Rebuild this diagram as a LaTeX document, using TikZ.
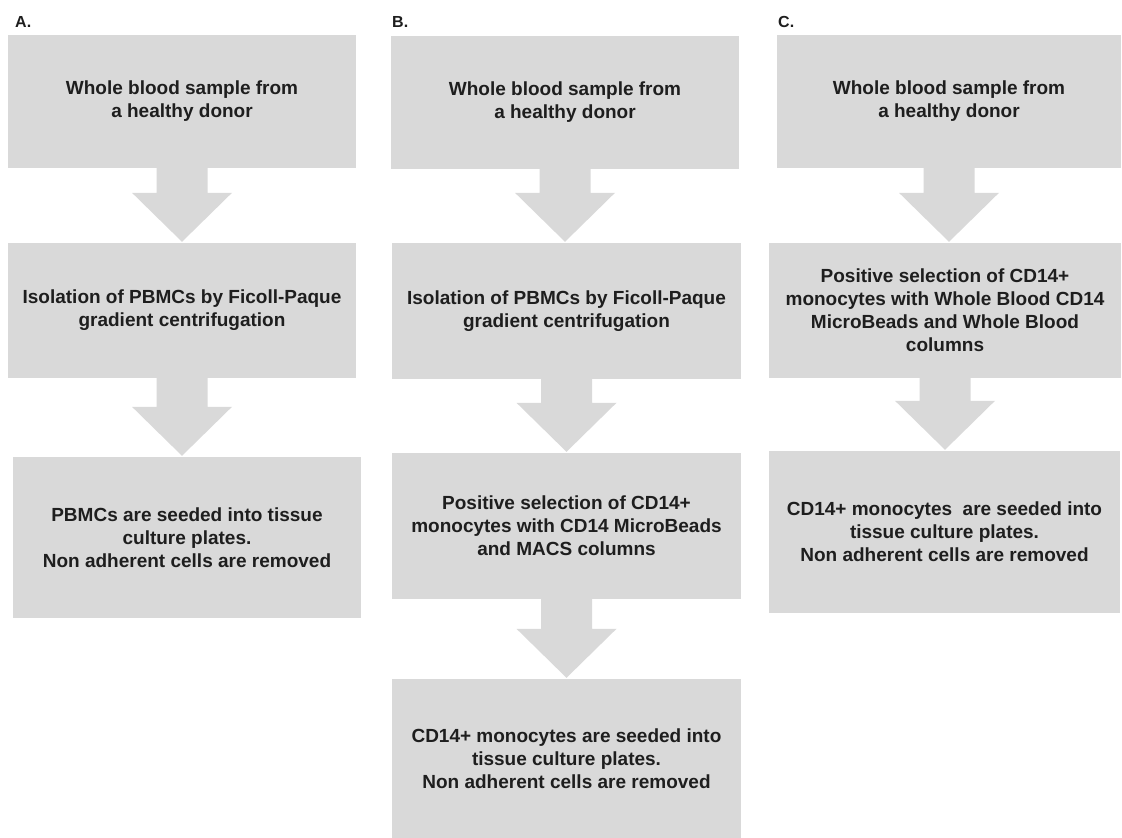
\documentclass[tikz,border=0pt]{standalone}
\usepackage{fontspec}
\setmainfont{Liberation Sans}
\usetikzlibrary{calc}
\definecolor{boxgray}{HTML}{D9D9D9}
\definecolor{txt}{HTML}{1E1E1E}
\newcommand\flowarrow[2]{%
  \fill[boxgray] let \p1=(#1.south), \p2=(#2.north) in
    (\x1-25.5pt,\y1) -- (\x1+25.5pt,\y1) -- (\x1+25.5pt,\y2+50pt) --
    (\x1+50pt,\y2+50pt) -- (\x1,\y2+1pt) -- (\x1-50pt,\y2+50pt) --
    (\x1-25.5pt,\y2+50pt) -- cycle;}
\begin{document}
\begin{tikzpicture}[x=1pt,y=-1pt,
  stepbox/.style={fill=boxgray, draw=none, inner sep=0pt, align=center,
    text=txt, font=\fontsize{19}{23}\selectfont\bfseries},
  panel/.style={font=\fontsize{16}{19}\selectfont\bfseries, text=txt,
    inner sep=0pt, anchor=base west}]
\useasboundingbox (0,0) rectangle (1122,838);
\fill[white] (0,0) rectangle (1122,838);

% panel labels
\node[panel] (la) at (15,27) {A.};
\node[panel] (lb) at (392,27) {B.};
\node[panel] (lc) at (778,27) {C.};

% column A
\node[stepbox, minimum width=348, minimum height=133] (a1) at (182,101.5)
  {Whole blood sample from\\a healthy donor};
\node[stepbox, minimum width=348, minimum height=135] (a2) at (182,310.5)
  {Isolation of PBMCs by Ficoll-Paque\\gradient centrifugation};
\node[stepbox, minimum width=348, minimum height=161] (a3) at (187,537.5)
  {PBMCs are seeded into tissue\\culture plates.\\Non adherent cells are removed};

% column B
\node[stepbox, minimum width=348, minimum height=133] (b1) at (565,102.5)
  {Whole blood sample from\\a healthy donor};
\node[stepbox, minimum width=349, minimum height=136] (b2) at (566.5,311)
  {Isolation of PBMCs by Ficoll-Paque\\gradient centrifugation};
\node[stepbox, minimum width=349, minimum height=146] (b3) at (566.5,526)
  {Positive selection of CD14+\\monocytes with CD14 MicroBeads\\and MACS columns};
\node[stepbox, minimum width=349, minimum height=160] (b4) at (566.5,759)
  {CD14+ monocytes are seeded into\\tissue culture plates.\\Non adherent cells are removed};

% column C
\node[stepbox, minimum width=344, minimum height=133] (c1) at (949,101.5)
  {Whole blood sample from\\a healthy donor};
\node[stepbox, minimum width=352, minimum height=135] (c2) at (945,310.5)
  {Positive selection of CD14+\\monocytes with Whole Blood CD14\\MicroBeads and Whole Blood\\columns};
\node[stepbox, minimum width=351, minimum height=162] (c3) at (944.5,532)
  {CD14+ monocytes \ are seeded into\\tissue culture plates.\\Non adherent cells are removed};

% arrows
\flowarrow{a1}{a2}
\flowarrow{a2}{a3}
\flowarrow{b1}{b2}
\flowarrow{b2}{b3}
\flowarrow{b3}{b4}
\flowarrow{c1}{c2}
\flowarrow{c2}{c3}
\end{tikzpicture}
\end{document}
